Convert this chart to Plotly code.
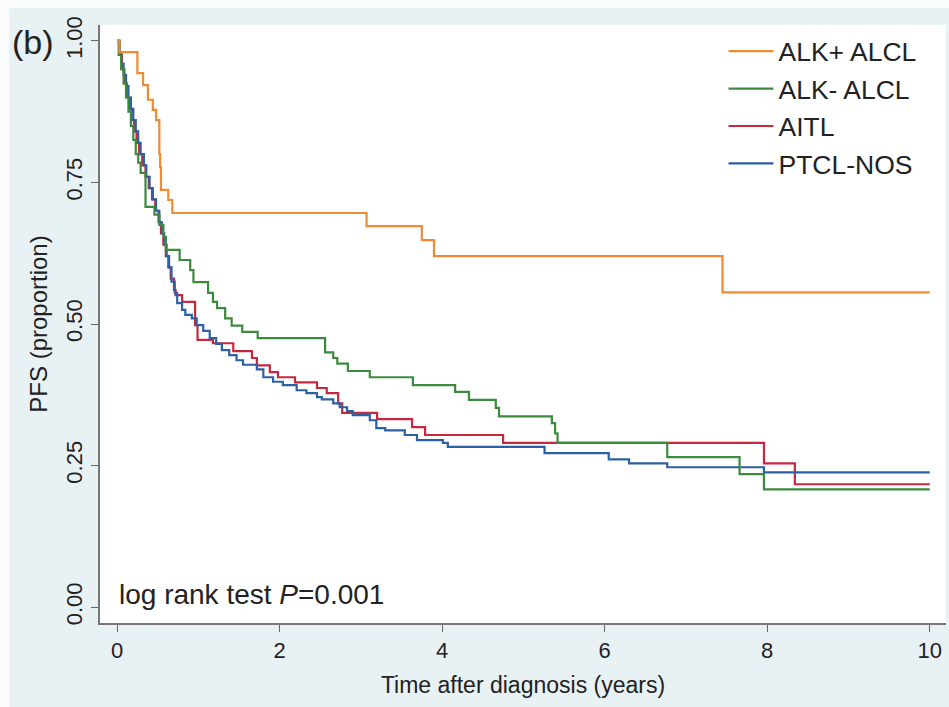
import plotly.graph_objects as go

# ---- data (time in years, PFS proportion after each step) ----
alk_pos_steps = [(0, 1.0), (0.03, 0.98), (0.25, 0.943), (0.32, 0.922), (0.38, 0.896), (0.44, 0.878),
                 (0.48, 0.86), (0.52, 0.80), (0.53, 0.777), (0.54, 0.737), (0.63, 0.719), (0.68, 0.696),
                 (3.07, 0.673), (3.75, 0.648), (3.90, 0.62), (7.45, 0.556), (10.0, 0.556)]

alk_neg_steps = [(0, 1.0), (0.02, 0.975), (0.05, 0.95), (0.08, 0.925), (0.11, 0.90), (0.14, 0.875),
                 (0.17, 0.85), (0.20, 0.825), (0.23, 0.80), (0.26, 0.785), (0.29, 0.767), (0.35, 0.707),
                 (0.46, 0.693), (0.52, 0.675), (0.57, 0.654), (0.60, 0.631), (0.77, 0.613), (0.90, 0.595),
                 (0.94, 0.574), (1.12, 0.555), (1.18, 0.539), (1.23, 0.528), (1.33, 0.51), (1.41, 0.497),
                 (1.54, 0.486), (1.73, 0.475), (2.56, 0.45), (2.66, 0.44), (2.71, 0.43), (2.84, 0.417),
                 (3.11, 0.406), (3.64, 0.392), (4.16, 0.38), (4.33, 0.366), (4.66, 0.352), (4.70, 0.337),
                 (5.35, 0.325), (5.39, 0.307), (5.42, 0.29), (6.77, 0.265), (7.66, 0.235), (7.96, 0.208),
                 (10.0, 0.208)]

aitl_steps = [(0, 1.0), (0.03, 0.975), (0.06, 0.95), (0.09, 0.925), (0.12, 0.90), (0.15, 0.88),
              (0.18, 0.86), (0.21, 0.84), (0.24, 0.82), (0.27, 0.80), (0.31, 0.78), (0.35, 0.76),
              (0.39, 0.74), (0.43, 0.72), (0.47, 0.70), (0.51, 0.68), (0.54, 0.66), (0.57, 0.64),
              (0.60, 0.62), (0.63, 0.60), (0.66, 0.58), (0.70, 0.56), (0.72, 0.551), (0.80, 0.539),
              (0.96, 0.498), (0.99, 0.472), (1.18, 0.466), (1.43, 0.452), (1.66, 0.44), (1.72, 0.427),
              (1.88, 0.415), (1.98, 0.406), (2.19, 0.397), (2.46, 0.387), (2.58, 0.378), (2.72, 0.36),
              (2.77, 0.343), (3.20, 0.332), (3.63, 0.318), (3.79, 0.304), (4.75, 0.29), (7.96, 0.254),
              (8.34, 0.217), (10.0, 0.217)]

ptcl_steps = [(0, 1.0), (0.03, 0.98), (0.05, 0.96), (0.08, 0.94), (0.11, 0.92), (0.14, 0.90),
              (0.17, 0.88), (0.20, 0.86), (0.23, 0.84), (0.26, 0.82), (0.29, 0.80), (0.33, 0.78),
              (0.36, 0.76), (0.40, 0.74), (0.44, 0.72), (0.48, 0.70), (0.52, 0.68), (0.55, 0.66),
              (0.58, 0.64), (0.61, 0.62), (0.64, 0.60), (0.67, 0.575), (0.71, 0.555), (0.74, 0.537),
              (0.80, 0.525), (0.84, 0.516), (0.92, 0.51), (0.98, 0.498), (1.06, 0.488), (1.14, 0.475),
              (1.22, 0.465), (1.29, 0.454), (1.38, 0.445), (1.47, 0.436), (1.55, 0.428), (1.72, 0.42),
              (1.80, 0.406), (1.92, 0.398), (2.04, 0.392), (2.21, 0.383), (2.33, 0.378), (2.46, 0.371),
              (2.52, 0.367), (2.66, 0.36), (2.74, 0.353), (2.83, 0.346), (2.90, 0.339), (3.11, 0.33),
              (3.19, 0.316), (3.30, 0.312), (3.54, 0.304), (3.69, 0.295), (4.01, 0.29), (4.07, 0.283),
              (5.26, 0.272), (6.05, 0.261), (6.30, 0.254), (6.77, 0.247), (7.96, 0.238), (10.0, 0.238)]

series_names = ["ALK+ ALCL", "ALK- ALCL", "AITL", "PTCL-NOS"]
series_colors = ["#F08A33", "#3C8A3E", "#C8283E", "#2D5FA3"]
series_steps = [alk_pos_steps, alk_neg_steps, aitl_steps, ptcl_steps]

x_ticks = [0, 2, 4, 6, 8, 10]
y_ticks = [0.0, 0.25, 0.5, 0.75, 1.0]
y_tick_labels = ["0.00", "0.25", "0.50", "0.75", "1.00"]

FONT = "Liberation Sans, Arial, sans-serif"
TEXT = "#222222"

fig = go.Figure()
draw_order = [2, 3, 1, 0]  # AITL, PTCL-NOS, ALK-, ALK+
for i in draw_order:
    t = [p[0] for p in series_steps[i]]
    s = [p[1] for p in series_steps[i]]
    fig.add_trace(go.Scatter(
        x=t, y=s, mode="lines", name=series_names[i],
        line=dict(color=series_colors[i], width=2.2, shape="hv"),
        legendrank=i + 1,
    ))

fig.update_layout(
    width=949, height=707,
    margin=dict(l=100, r=3, t=25, b=84),
    paper_bgcolor="#E8F1F3",
    plot_bgcolor="#FFFFFF",
    font=dict(family=FONT, color=TEXT),
    showlegend=True,
    legend=dict(
        x=0.737, y=0.996, xanchor="left", yanchor="top",
        bgcolor="rgba(255,255,255,0)", borderwidth=0,
        font=dict(size=26.5, family=FONT, color=TEXT),
        traceorder="normal", itemwidth=45, tracegroupgap=0,
    ),
    xaxis=dict(
        range=[-0.21, 10.2], tickvals=x_ticks, ticks="outside", ticklen=7, tickwidth=1.3,
        tickcolor="#666666", showline=True, linecolor="#777777", linewidth=1.5,
        showgrid=False, zeroline=False, tickfont=dict(size=22, family=FONT, color=TEXT),
        title=dict(text="Time after diagnosis (years)", font=dict(size=23, family=FONT, color=TEXT),
                   standoff=15),
    ),
    yaxis=dict(
        range=[-0.028, 1.028], tickvals=y_ticks, ticktext=y_tick_labels, tickangle=-90,
        ticks="outside", ticklen=7, tickwidth=1.3, tickcolor="#666666",
        showline=True, linecolor="#777777", linewidth=1.5,
        showgrid=False, zeroline=False, tickfont=dict(size=22, family=FONT, color=TEXT),
        title=dict(text="PFS (proportion)", font=dict(size=24, family=FONT, color=TEXT), standoff=8),
    ),
    shapes=[
        # thin white border of the original figure panel (left and top edges)
        dict(type="rect", xref="paper", yref="paper", x0=-0.13, x1=-0.1075, y0=-0.2, y1=1.1,
             fillcolor="#FBFDFD", line=dict(width=0), layer="below"),
        dict(type="rect", xref="paper", yref="paper", x0=-0.13, x1=1.05, y0=1.0285, y1=1.1,
             fillcolor="#FBFDFD", line=dict(width=0), layer="below"),
    ],
)

fig.add_annotation(
    x=0, y=0.023, xref="x", yref="y", xanchor="left", yanchor="middle",
    text="log rank test <i>P</i>=0.001", showarrow=False,
    font=dict(size=28, family=FONT, color=TEXT),
)
fig.add_annotation(
    x=-0.106, y=0.972, xref="paper", yref="paper", xanchor="left", yanchor="middle",
    text="(b)", showarrow=False, font=dict(size=34, family=FONT, color=TEXT),
)

fig.write_html("out.html")
